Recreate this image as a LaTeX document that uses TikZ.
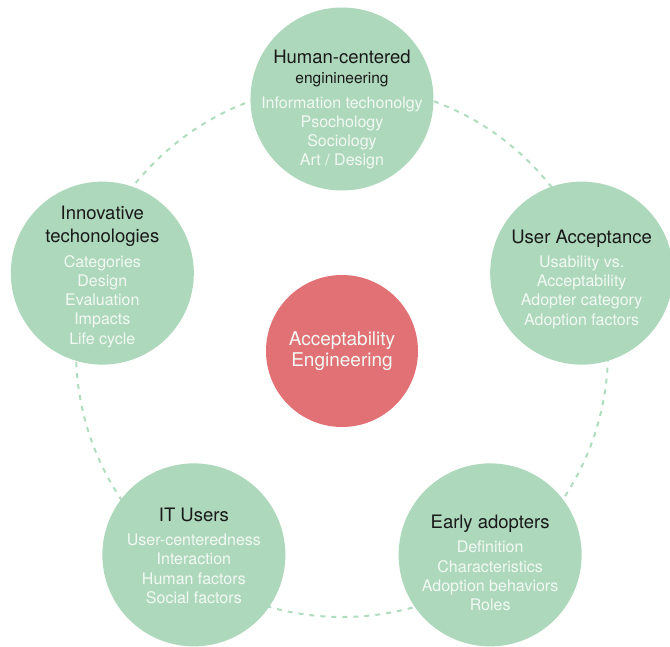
\documentclass[tikz,border=0pt]{standalone}
\usepackage{fontspec}
\setmainfont{TeX Gyre Heros}
\definecolor{leaf}{RGB}{173,216,187}
\definecolor{ring}{RGB}{176,220,192}
\definecolor{rose}{RGB}{226,113,117}
\definecolor{pale}{RGB}{242,249,244}
\newcommand{\ttl}{\fontsize{18.5}{22}\selectfont\color{black!90}}
\newcommand{\subttl}{\fontsize{15.5}{19}\selectfont\color{black!90}}
\begin{document}
\begin{tikzpicture}[x=1pt,y=1pt,
  topic/.style={circle,fill=leaf,minimum size=183pt,inner sep=0pt},
  blurb/.style={inner sep=0pt,align=center,text=pale,font=\fontsize{16}{19.3}\selectfont},
  hub/.style={circle,fill=rose,minimum size=152pt,inner sep=0pt,align=center,
    text=pale,font=\fontsize{19}{21.5}\selectfont}]
\useasboundingbox (-342,-295) rectangle (328,351);
\draw [ring,line width=2pt,dash pattern=on 5pt off 6pt] (0,0) circle (266pt);
\node[hub] (core) at (0,0) {Acceptability\\Engineering};
\node[topic] (hce) at (90:252pt) {};
\node[topic] (accept) at (18:252pt) {};
\node[topic] (early) at (-54:252pt) {};
\node[topic] (users) at (-126:252pt) {};
\node[topic] (innov) at (162:252pt) {};
\node[blurb] (hce-txt) at ([yshift=-11pt]hce.center) {{\ttl Human-centered}\\[0.5pt]{\subttl enginineering}\\[5pt]
Information techonolgy\\Psochology\\Sociology\\Art / Design};
\node[blurb] (accept-txt) at ([yshift=-6pt]accept.center) {{\ttl User Acceptance}\\[5pt]
Usability vs.\\Acceptability\\Adopter category\\Adoption factors};
\node[blurb] (early-txt) at ([yshift=-8pt]early.center) {{\ttl Early adopters}\\[5pt]
Definition\\Characteristics\\Adoption behaviors\\Roles};
\node[blurb] (users-txt) at ([yshift=-1pt]users.center) {{\ttl IT Users}\\[5pt]
User-centeredness\\Interaction\\Human factors\\Social factors};
\node[blurb] (innov-txt) at ([yshift=-4pt]innov.center) {{\ttl Innovative}\\[3.5pt]{\ttl techonologies}\\[5pt]
Categories\\Design\\Evaluation\\Impacts\\Life cycle};
\end{tikzpicture}
\end{document}
